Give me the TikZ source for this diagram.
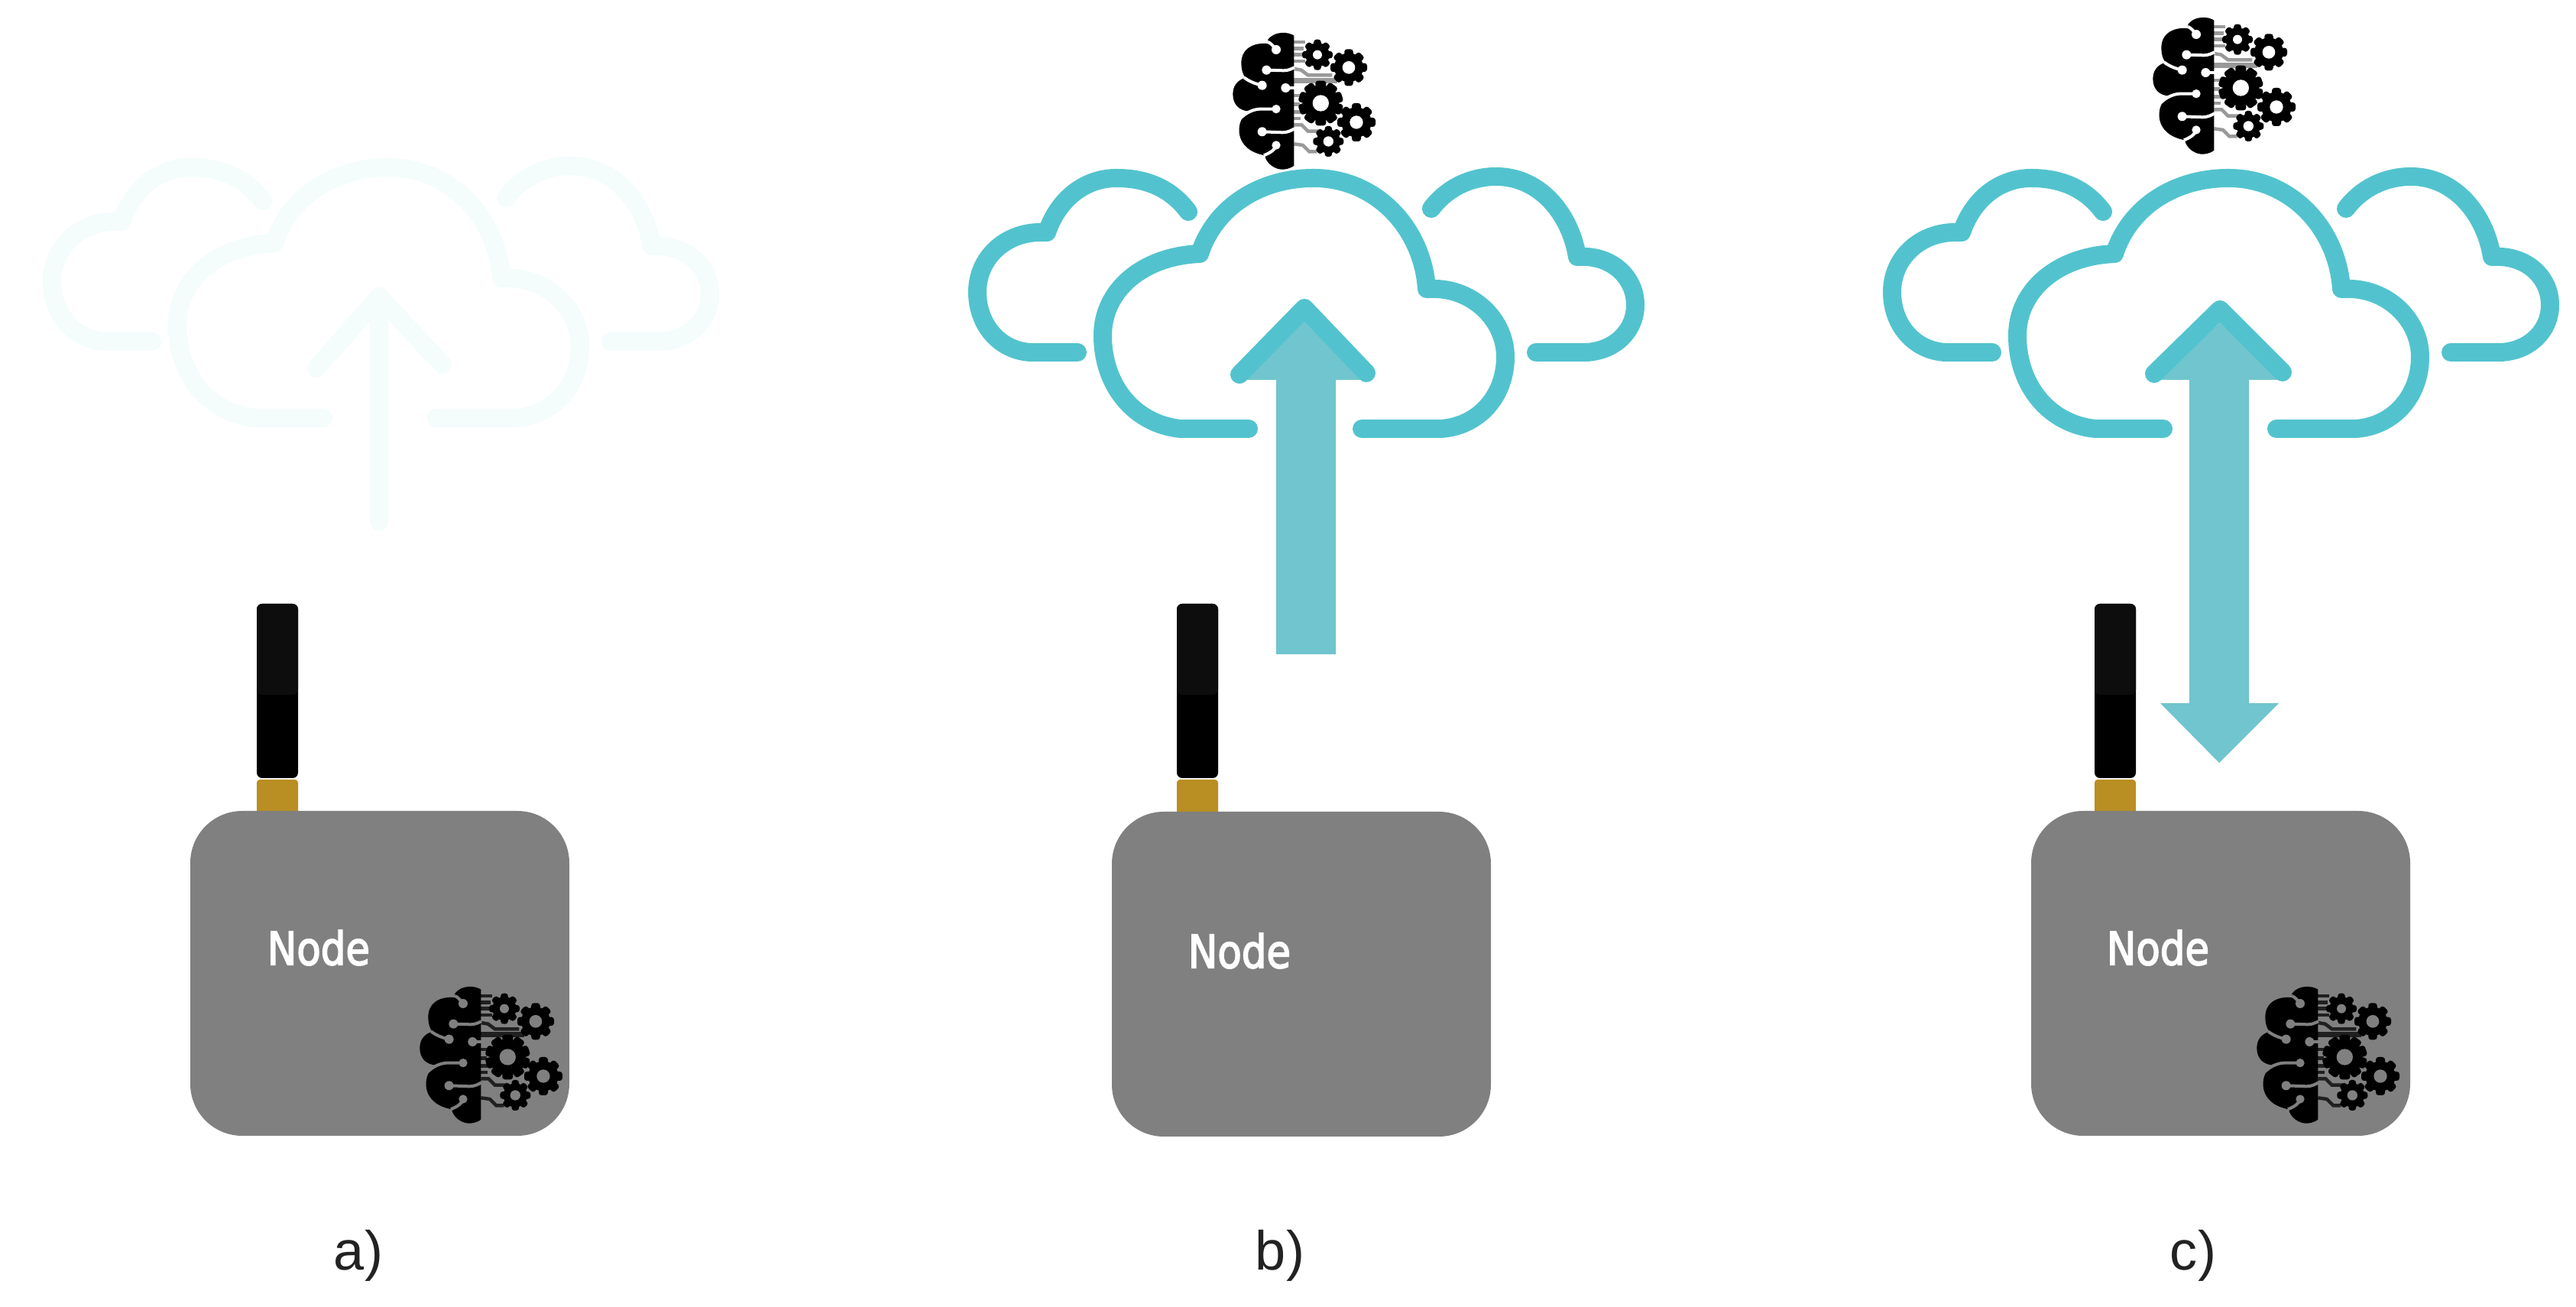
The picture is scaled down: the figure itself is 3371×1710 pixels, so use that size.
\documentclass[tikz,border=0pt]{standalone}
\usepackage{fontspec}
\setmainfont{Liberation Sans}
\newfontfamily\nodefont[FakeBold=3]{DejaVu Sans}
\definecolor{cloudteal}{HTML}{52C3CE}
\definecolor{arrowteal}{HTML}{70C5CE}
\definecolor{ghostteal}{HTML}{F4FCFC}
\definecolor{devgray}{HTML}{808080}
\definecolor{goldband}{HTML}{B98E22}
\definecolor{antennatop}{HTML}{0D0D0D}
\definecolor{labelink}{HTML}{222222}
\tikzset{
  cloudline/.style={line width=0.24cm,line cap=round,line join=round},
  lobeline/.style={line width=0.24cm,line cap=round,line join=round},
  devicetext/.style={text=white,font=\nodefont\fontsize{17}{20}\selectfont,inner sep=0pt,xscale=.86,anchor=center},
  caption/.style={text=labelink,font=\fontsize{20.5}{24}\selectfont,inner sep=0pt,anchor=center},
}
% clouds, drawn in panel-b coordinates
\newcommand{\cloudset}[3]{%
 \begin{scope}[shift={(#1,#2)}]
  \draw[cloudline,color=#3] (1634,561) -- (1545,561)
     .. controls (1485,555) and (1443,505) .. (1443,439)
     .. controls (1443,380) and (1495,335) .. (1570,332)
     .. controls (1590,270) and (1650,233) .. (1719,233)
     .. controls (1802,233) and (1862,300) .. (1867,378)
     -- (1880,378)
     .. controls (1930,380) and (1970,420) .. (1970,467)
     .. controls (1970,518) and (1935,558) .. (1885,561) -- (1782,561);
  \draw[lobeline,color=#3] (1555,277)
     .. controls (1535,250) and (1505,233) .. (1461,233)
     .. controls (1420,233) and (1385,260) .. (1370,304)
     -- (1358,304)
     .. controls (1312,306) and (1279,340) .. (1279,382)
     .. controls (1279,425) and (1308,459) .. (1349,461) -- (1410,461);
  \draw[lobeline,color=#3] (1873,273)
     .. controls (1890,250) and (1920,231) .. (1958,231)
     .. controls (2015,231) and (2055,280) .. (2064,336)
     -- (2076,336)
     .. controls (2113,338) and (2140,365) .. (2140,399)
     .. controls (2140,433) and (2113,459) .. (2076,461) -- (2010,461);
 \end{scope}}
% one gear: cx cy outer body step bg hole
\newcommand{\gearicon}[7]{%
  \foreach \ang in {0,#5,...,359}{
    \fill[black,rotate around={\ang:(#1,#2)},rounded corners=1pt]
       ({#1-0.24*#3},#2) rectangle ({#1+0.24*#3},{#2-#3});
  }
  \fill[black] (#1,#2) circle[radius=#4*0.01cm];
  \fill[#6] (#1,#2) circle[radius=#7*0.01cm];
}
\newcommand{\brainicon}[4]{%
 \begin{scope}[shift={(#1,#2)},scale=1/3]
  \begin{scope}[color=#4,line width=0.045cm]
   \draw (340,165) -- (385,165);
   \draw (340,190) -- (378,190);
   \draw (340,215) -- (380,215);
   \draw (340,240) -- (385,240);
   \draw (340,270) -- (368,275) -- (395,295) -- (490,295);
   \draw[line width=0.07cm] (340,317) -- (510,317);
   \draw (340,375) -- (375,375);
   \draw (340,410) -- (362,410);
   \draw (340,440) -- (365,440);
   \draw (340,465) -- (365,465);
   \draw (340,490) -- (370,490) -- (395,515) -- (440,515);
   \draw (340,565) -- (375,570) -- (400,595) -- (430,595);
  \end{scope}
  \gearicon{432}{215}{60}{47}{45}{#3}{18}
  \gearicon{555}{265}{72}{57}{45}{#3}{25}
  \gearicon{445}{405}{88}{70}{36}{#3}{32}
  \gearicon{585}{480}{75}{59}{45}{#3}{26}
  \gearicon{475}{555}{60}{47}{45}{#3}{20}
  \fill[black] (340,140) .. controls (320,125) and (265,120) .. (238,155)
     -- (240,172) .. controls (190,165) and (135,185) .. (133,245)
     .. controls (133,275) and (140,295) .. (150,305)
     .. controls (115,315) and (100,340) .. (100,370)
     .. controls (100,410) and (125,435) .. (165,437)
     .. controls (135,455) and (122,485) .. (125,520)
     .. controls (130,570) and (170,600) .. (225,610)
     .. controls (230,640) and (265,668) .. (300,665)
     .. controls (320,663) and (335,655) .. (340,650) -- cycle;
  \begin{scope}[color=#3,line width=0.04cm]
   \draw (238,165) .. controls (250,170) and (258,180) .. (270,195);
   \draw (232,275) -- (300,277) .. controls (318,277) and (330,270) .. (342,265);
   \draw (215,335) .. controls (190,330) and (165,320) .. (145,305);
   \draw (307,345) -- (342,345);
   \draw (270,428) -- (205,428) .. controls (175,430) and (150,445) .. (132,462);
   \draw (215,517) -- (295,520) .. controls (315,520) and (330,512) .. (342,505);
   \draw (270,570) .. controls (265,590) and (245,600) .. (222,610);
  \end{scope}
  \foreach \dx/\dy/\dr in {270/195/18,232/275/18,215/335/18,307/345/18,270/428/17,215/517/18,270/570/17}{
    \fill[#3] (\dx,\dy) circle[radius=\dr*0.01cm];
  }
 \end{scope}}
% box dx, box dy, antenna dx
\newcommand{\devicebox}[3]{%
  \begin{scope}[shift={(#3,0)}]
   \fill[black,rounded corners=0.07cm] (336,790) rectangle (390,1018);
   \fill[antennatop,rounded corners=0.07cm] (336,790) rectangle (390,909);
   \fill[goldband,rounded corners=0.04cm] (336,1020) rectangle (390,1066);
  \end{scope}
  \begin{scope}[shift={(#1,#2)}]
   \fill[devgray,rounded corners=0.68cm] (249,1061) rectangle (745,1486);
  \end{scope}}
\begin{document}
\begin{tikzpicture}[x=0.01cm,y=-0.01cm]
\useasboundingbox (0,0) rectangle (3371,1710);
\fill[white] (0,0) rectangle (3371,1710);

% panel a
\cloudset{-1211}{-14}{ghostteal}
\draw[cloudline,color=ghostteal] (496,682) -- (496,388);
\draw[cloudline,color=ghostteal] (414,482) -- (496,388) -- (579,477);
\devicebox{0}{0}{0}
\node[devicetext] (nodea) at (417,1240) {Node};
\brainicon{516}{1248}{devgray}{black!75!devgray}

% panel b
\cloudset{0}{0}{cloudteal}
\fill[arrowteal] (1670,856) -- (1670,497) -- (1628,497) -- (1707,419) -- (1788,497) -- (1748,497) -- (1748,856) -- cycle;
\draw[cloudline,color=cloudteal] (1622,490) -- (1707,403) -- (1788,488);
\devicebox{1206}{1}{1204}
\node[devicetext] (nodeb) at (1622,1244) {Node};
\brainicon{1580}{0}{white}{black!40}

% panel c
\cloudset{1197}{0}{cloudteal}
\fill[arrowteal] (2865,920) -- (2865,497) -- (2825,497) -- (2905,422) -- (2985,497) -- (2943,497) -- (2943,920) -- (2982,920) -- (2904,998) -- (2827,920) -- cycle;
\draw[cloudline,color=cloudteal] (2819,489) -- (2905,405) -- (2987,487);
\devicebox{2409}{0}{2405}
\node[devicetext] (nodec) at (2824,1240) {Node};
\brainicon{2784}{-20}{white}{black!40}
\brainicon{2920}{1248}{devgray}{black!75!devgray}

% captions
\node[caption] (labela) at (469,1643) {a)};
\node[caption] (labelb) at (1675,1643) {b)};
\node[caption] (labelc) at (2870,1643) {c)};
\end{tikzpicture}
\end{document}
